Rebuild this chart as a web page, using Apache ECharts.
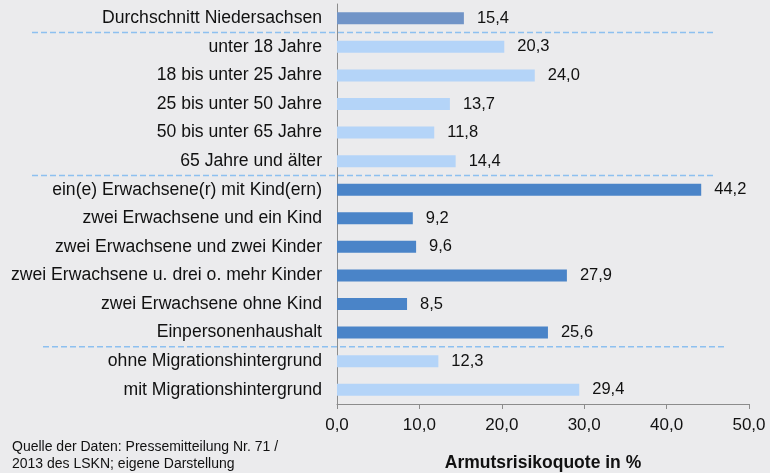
<!DOCTYPE html>
<html>
<head>
<meta charset="utf-8">
<script src="https://cdn.jsdelivr.net/npm/echarts@6/dist/echarts.min.js"></script>
<style>
  html, body { margin: 0; padding: 0; background: #ebebed; }
  #chart { width: 770px; height: 473px; }
</style>
</head>
<body>
<div id="chart"></div>
<script>
const categories = [
  "Durchschnitt Niedersachsen",
  "unter 18 Jahre",
  "18 bis unter 25 Jahre",
  "25 bis unter 50 Jahre",
  "50 bis unter 65 Jahre",
  "65 Jahre und älter",
  "ein(e) Erwachsene(r) mit Kind(ern)",
  "zwei Erwachsene und ein Kind",
  "zwei Erwachsene und zwei Kinder",
  "zwei Erwachsene u. drei o. mehr Kinder",
  "zwei Erwachsene ohne Kind",
  "Einpersonenhaushalt",
  "ohne Migrationshintergrund",
  "mit Migrationshintergrund"
];
const values = [15.4, 20.3, 24.0, 13.7, 11.8, 14.4, 44.2, 9.2, 9.6, 27.9, 8.5, 25.6, 12.3, 29.4];
// group of each category (0 = average, 1 = age, 2 = household, 3 = migration)
const groups = [0, 1, 1, 1, 1, 1, 2, 2, 2, 2, 2, 2, 3, 3];
const xTicks = [0, 10, 20, 30, 40, 50];

const groupColors = ["#7194c7", "#b4d4f8", "#4a84c8", "#b4d4f8"];
const fmt = v => Number(v).toFixed(1).replace(".", ",");
const font = "Liberation Sans, Arial, sans-serif";

const chart = echarts.init(document.getElementById("chart"));
chart.setOption({
  backgroundColor: "#ebebed",
  animation: false,
  grid: { left: 337, right: 21, top: 4, bottom: 69, containLabel: false, outerBoundsMode: "none" },
  xAxis: {
    type: "value",
    min: xTicks[0],
    max: xTicks[xTicks.length - 1],
    interval: 10,
    name: "Armutsrisikoquote in %",
    nameLocation: "middle",
    nameGap: 50,
    nameTextStyle: { fontFamily: font, fontSize: 17.5, fontWeight: "bold", color: "#111" },
    axisLine: { show: true, lineStyle: { color: "#8c8c8c", width: 1 } },
    axisTick: { show: true, length: 5, lineStyle: { color: "#8c8c8c" } },
    axisLabel: { formatter: fmt, fontFamily: font, fontSize: 17, color: "#111", margin: 13 },
    splitLine: { show: false }
  },
  yAxis: {
    type: "category",
    data: categories,
    inverse: true,
    axisLine: { show: true, lineStyle: { color: "#8c8c8c", width: 1 } },
    axisTick: { show: false },
    axisLabel: { fontFamily: font, fontSize: 17.6, color: "#111", margin: 15 }
  },
  series: [{
    type: "bar",
    data: values,
    barWidth: 12,
    itemStyle: { color: p => groupColors[groups[p.dataIndex]] },
    label: {
      show: true,
      position: "right",
      distance: 13,
      formatter: p => fmt(p.value),
      fontFamily: font,
      fontSize: 16.5,
      color: "#111"
    }
  }]
});

// dashed separators between the groups
const seps = [];
for (let i = 1; i < categories.length; i++) {
  if (groups[i] !== groups[i - 1]) {
    const y0 = chart.convertToPixel({ yAxisIndex: 0 }, categories[i - 1]);
    const y1 = chart.convertToPixel({ yAxisIndex: 0 }, categories[i]);
    seps.push((y0 + y1) / 2);
  }
}
const sepX = [[32, 715], [32, 715], [43, 726]];
chart.setOption({
  graphic: seps.map((y, k) => ({
    type: "line",
    shape: { x1: sepX[k][0], y1: y, x2: sepX[k][1], y2: y },
    style: { stroke: "#8dc0f0", lineWidth: 1.5, lineDash: [6, 3] },
    z: 10
  })).concat([{
    type: "text",
    left: 12,
    top: 439,
    style: {
      text: "Quelle der Daten: Pressemitteilung Nr. 71 /\n2013 des LSKN; eigene Darstellung",
      font: "14px " + font,
      fill: "#111",
      lineHeight: 17
    }
  }])
});
</script>
</body>
</html>
